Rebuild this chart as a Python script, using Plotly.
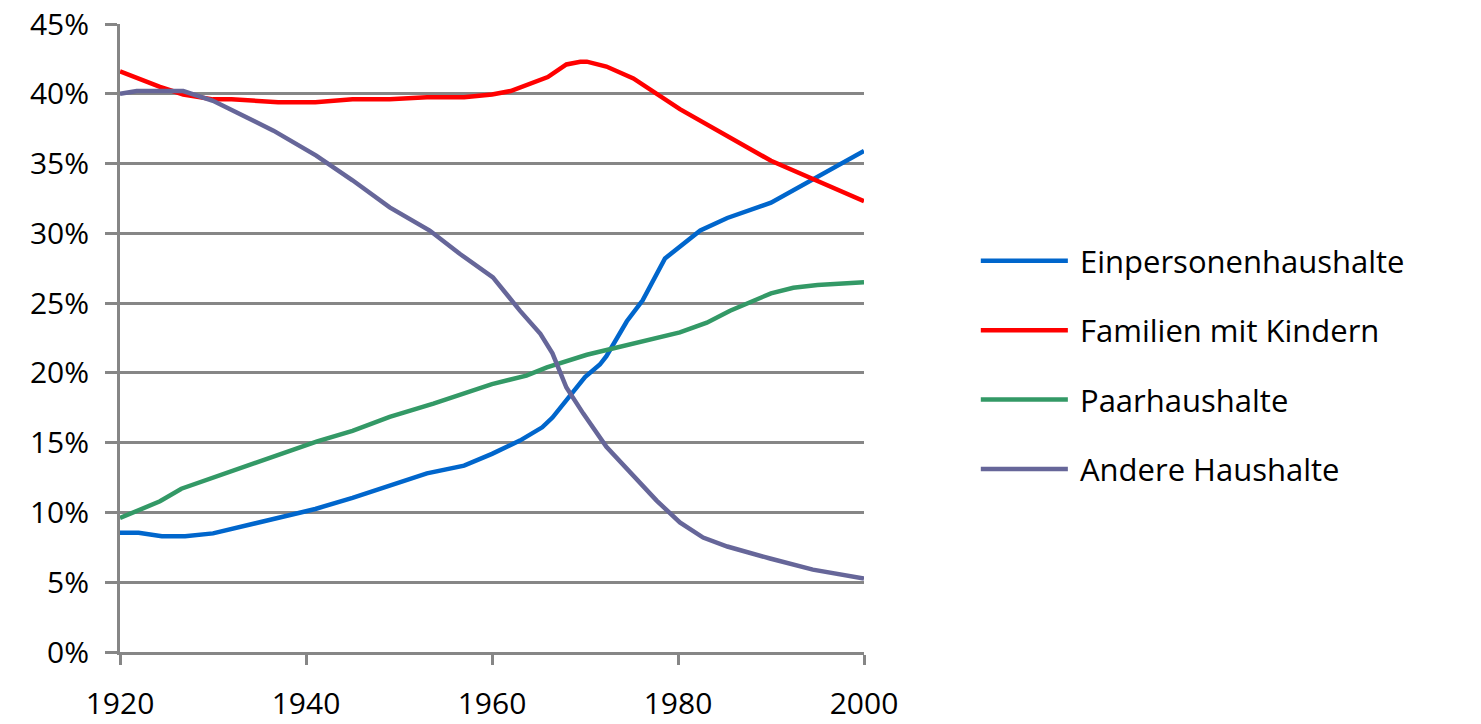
import plotly.graph_objects as go

# Haushaltstypen, Anteil an allen Haushalten in Prozent
series_names = ["Einpersonenhaushalte", "Familien mit Kindern", "Paarhaushalte", "Andere Haushalte"]
series_colors = ["#0066CC", "#FF0000", "#339966", "#666699"]

years_einpersonen = [1920, 1922, 1924.5, 1927, 1930, 1941, 1945, 1949, 1953, 1957, 1960, 1963,
                     1965.4, 1966.5, 1970, 1971.6, 1972.3, 1974.5, 1976.2, 1978.6, 1980.2,
                     1982.4, 1985.3, 1990, 2000]
einpersonen = [8.55, 8.55, 8.3, 8.3, 8.5, 10.25, 11.05, 11.9, 12.8, 13.35, 14.2, 15.15,
               16.1, 16.8, 19.7, 20.6, 21.2, 23.7, 25.2, 28.2, 29.0,
               30.2, 31.1, 32.2, 35.9]

years_familien = [1920, 1924.3, 1926.8, 1930, 1932, 1937, 1941, 1945, 1949, 1953, 1957, 1960,
                  1962, 1966, 1968, 1969.5, 1970.2, 1972.3, 1975.2, 1980.2, 1990, 2000]
familien = [41.6, 40.5, 39.95, 39.6, 39.6, 39.4, 39.4, 39.6, 39.6, 39.75, 39.75, 39.95,
            40.2, 41.2, 42.1, 42.3, 42.3, 41.95, 41.1, 38.9, 35.2, 32.3]

years_paar = [1920, 1924.3, 1926.6, 1930.2, 1936.5, 1941.2, 1945, 1949, 1953.7, 1957.6, 1960,
              1963.7, 1965.9, 1970.2, 1980.2, 1983.1, 1985.6, 1990, 1992.4, 1995, 2000]
paar = [9.6, 10.8, 11.7, 12.55, 14.0, 15.1, 15.85, 16.85, 17.8, 18.65, 19.2,
        19.8, 20.4, 21.3, 22.9, 23.6, 24.45, 25.7, 26.1, 26.3, 26.5]

years_andere = [1920, 1921.8, 1926.8, 1928.2, 1930, 1932.5, 1936.5, 1941.1, 1945, 1949, 1953.3,
                1956.6, 1960.1, 1963, 1965.2, 1966.5, 1968, 1969.8, 1972.3, 1977.7, 1980.2,
                1982.7, 1985.3, 1989.9, 1994.5, 2000]
andere = [40.0, 40.2, 40.2, 39.9, 39.5, 38.67, 37.36, 35.57, 33.8, 31.86, 30.2,
          28.5, 26.85, 24.46, 22.8, 21.4, 18.95, 17.1, 14.7, 10.85, 9.28,
          8.2, 7.56, 6.7, 5.9, 5.27]

x_ticks = [1920, 1940, 1960, 1980, 2000]
y_ticks = [0, 5, 10, 15, 20, 25, 30, 35, 40, 45]
y_tick_labels = [f"{v}%" for v in y_ticks]

all_x = [years_einpersonen, years_familien, years_paar, years_andere]
all_y = [einpersonen, familien, paar, andere]

FONT = "'Open Sans', 'DejaVu Sans', sans-serif"
GRID = "#868686"

fig = go.Figure()
for name, color, xs, ys in zip(series_names, series_colors, all_x, all_y):
    fig.add_trace(go.Scatter(
        x=xs, y=ys, mode="lines", name=name,
        line=dict(color=color, width=4.5),
        showlegend=False,
    ))

# Legend drawn beside the plot: long sample lines with labels
legend_top = 0.623
legend_step = 0.1105
for i, (name, color) in enumerate(zip(series_names, series_colors)):
    yy = legend_top - i * legend_step
    fig.add_shape(type="line", xref="paper", yref="paper",
                  x0=1.157, x1=1.274, y0=yy, y1=yy,
                  line=dict(color=color, width=4.5))
    fig.add_annotation(xref="paper", yref="paper", x=1.288, y=yy,
                       text=name, showarrow=False, xanchor="left", yanchor="middle",
                       font=dict(family=FONT, size=31, color="#000000"))

fig.update_layout(
    width=1481, height=724,
    margin=dict(l=120, r=617, t=24, b=72),
    paper_bgcolor="white", plot_bgcolor="white",
    font=dict(family=FONT, size=30, color="#000000"),
    xaxis=dict(
        range=[1920, 2000], tickmode="array", tickvals=x_ticks,
        ticktext=[str(v) for v in x_ticks],
        showgrid=False, zeroline=False, automargin=False,
        showline=True, linecolor=GRID, linewidth=3,
        ticks="outside", ticklen=10, tickwidth=3, tickcolor=GRID,
        ticklabelstandoff=13,
    ),
    yaxis=dict(
        range=[0, 45], tickmode="array", tickvals=y_ticks, ticktext=y_tick_labels,
        showgrid=True, gridcolor=GRID, gridwidth=2.5, zeroline=False, automargin=False,
        showline=True, linecolor=GRID, linewidth=3,
        ticks="outside", ticklen=12, tickwidth=2.5, tickcolor=GRID,
        ticklabelstandoff=10,
    ),
)

fig.write_html("out.html")
